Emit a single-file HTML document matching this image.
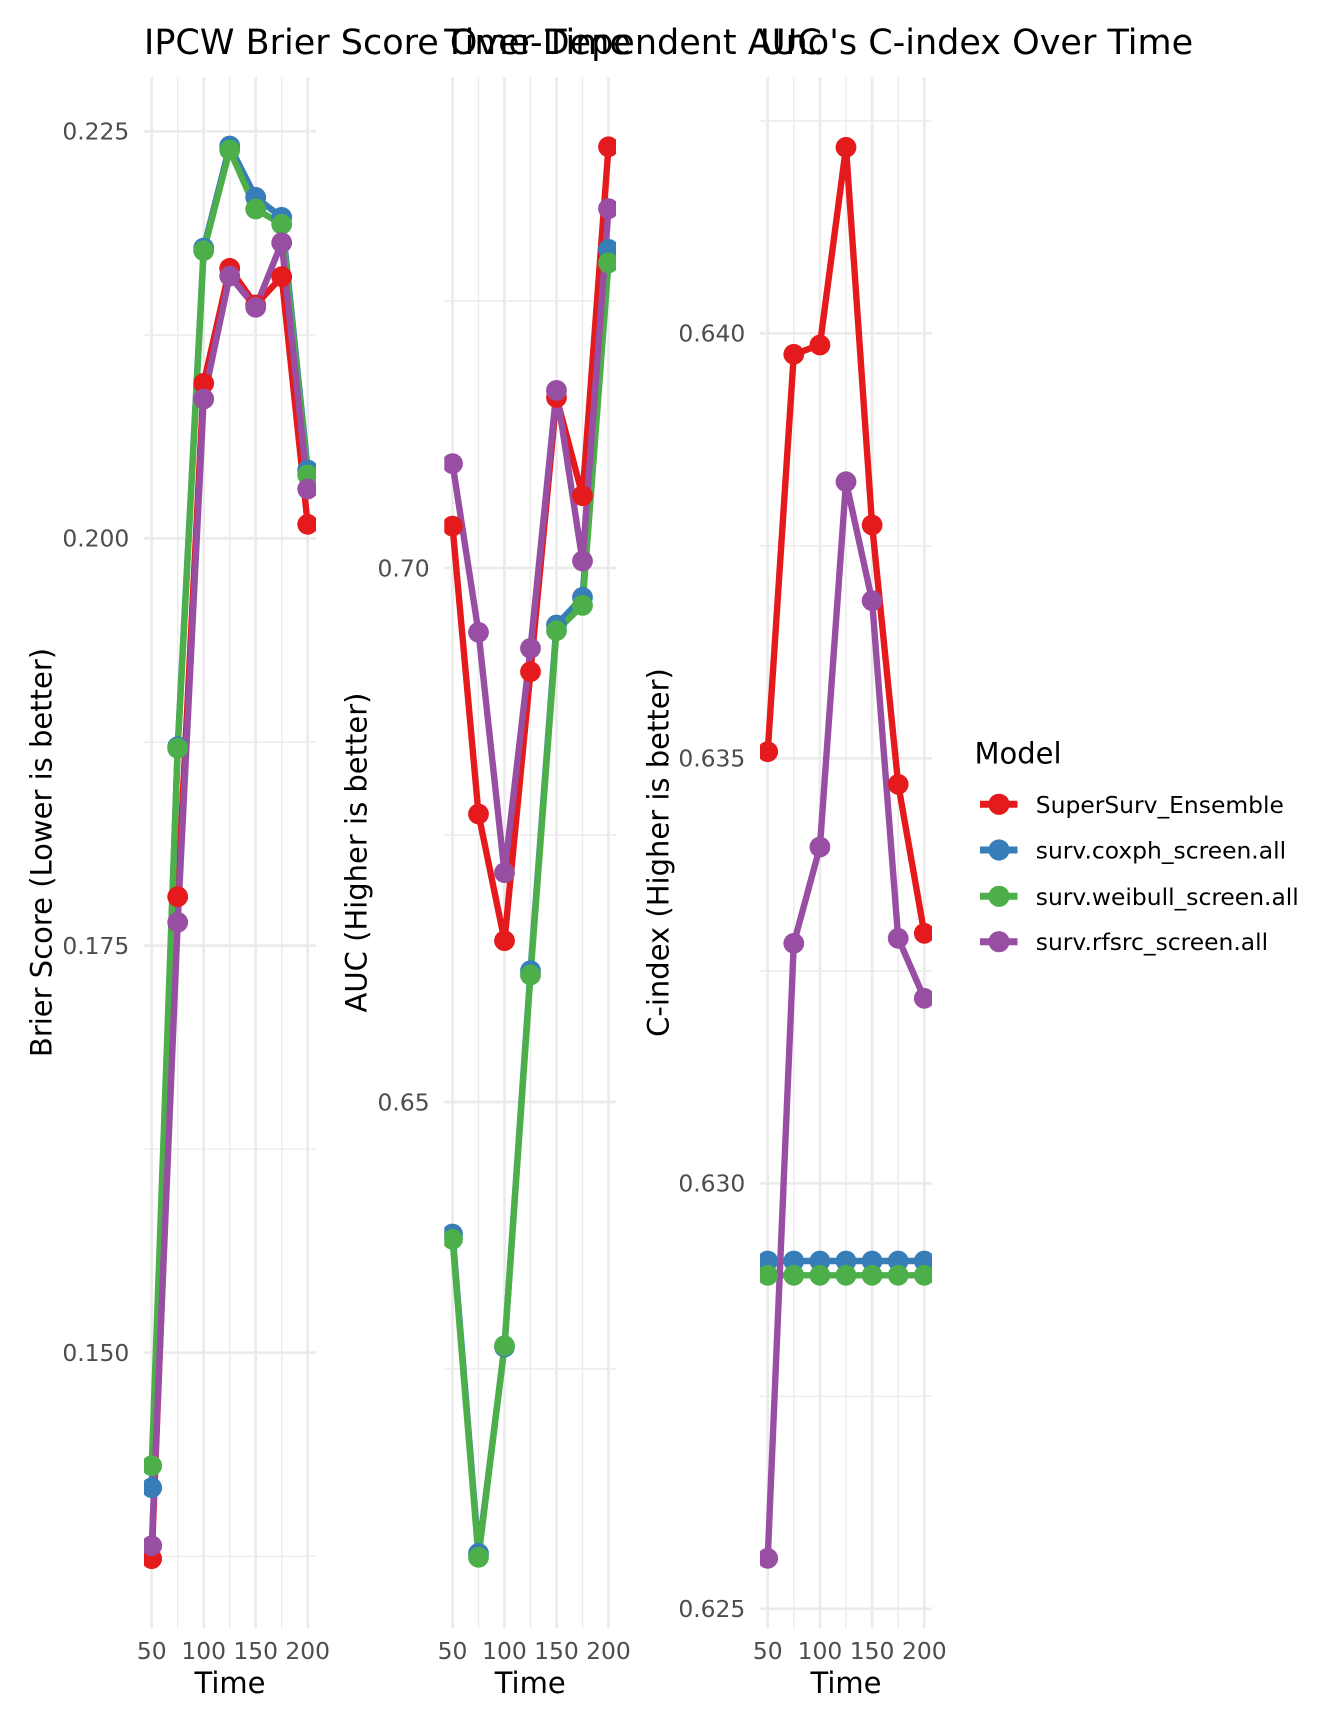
<!DOCTYPE html>
<html>
<head>
<meta charset="utf-8">
<style>
  html, body { margin:0; padding:0; background:#ffffff; }
  svg { display:block; }
  text { font-family: "DejaVu Sans", "Liberation Sans", sans-serif; }
</style>
</head>
<body>
<svg width="1344" height="1728" viewBox="0 0 1344 1728" xmlns="http://www.w3.org/2000/svg">
  <rect x="0" y="0" width="1344" height="1728" fill="#ffffff"/>
  <defs>
    <clipPath id="c1"><rect x="144" y="77" width="172" height="1551"/></clipPath>
    <clipPath id="c2"><rect x="444.3" y="77" width="171.7" height="1551"/></clipPath>
    <clipPath id="c3"><rect x="760" y="77" width="172" height="1551"/></clipPath>
  </defs>

  <!-- Titles -->
  <g font-size="35" fill="#000000">
    <text x="144" y="54">IPCW Brier Score Over Time</text>
    <text x="444.3" y="54">Time-Dependent AUC</text>
    <text x="760" y="54">Uno's C-index Over Time</text>
  </g>

  <!-- ============ PANEL 1 ============ -->
  <g stroke="#EBEBEB" fill="none">
    <g stroke-width="1.4">
      <line x1="144" x2="316" y1="335" y2="335"/>
      <line x1="144" x2="316" y1="742" y2="742"/>
      <line x1="144" x2="316" y1="1149.2" y2="1149.2"/>
      <line x1="144" x2="316" y1="1556.3" y2="1556.3"/>
      <line x1="177.7" x2="177.7" y1="77" y2="1628"/>
      <line x1="229.7" x2="229.7" y1="77" y2="1628"/>
      <line x1="281.7" x2="281.7" y1="77" y2="1628"/>
    </g>
    <g stroke-width="2.7">
      <line x1="144" x2="316" y1="131.3" y2="131.3"/>
      <line x1="144" x2="316" y1="538.4" y2="538.4"/>
      <line x1="144" x2="316" y1="945.6" y2="945.6"/>
      <line x1="144" x2="316" y1="1352.7" y2="1352.7"/>
      <line x1="151.7" x2="151.7" y1="77" y2="1628"/>
      <line x1="203.7" x2="203.7" y1="77" y2="1628"/>
      <line x1="255.7" x2="255.7" y1="77" y2="1628"/>
      <line x1="307.7" x2="307.7" y1="77" y2="1628"/>
    </g>
  </g>
  <g clip-path="url(#c1)">
    <g fill="none" stroke-width="6.4" stroke-linejoin="round">
      <polyline stroke="#E41A1C" points="151.7,1558.7 177.7,896.7 203.7,383.3 229.7,268.3 255.7,305 281.7,276.7 307.7,524.3"/>
      <polyline stroke="#377EB8" points="151.7,1487.7 177.7,746.7 203.7,248 229.7,146 255.7,197.3 281.7,217.3 307.7,470"/>
      <polyline stroke="#4DAF4A" points="151.7,1465.7 177.7,748.3 203.7,250.7 229.7,150 255.7,209 281.7,224.3 307.7,475"/>
      <polyline stroke="#984EA3" points="151.7,1545.7 177.7,922.3 203.7,399 229.7,276 255.7,307.3 281.7,242.7 307.7,489"/>
    </g>
    <g fill="#E41A1C">
      <circle cx="151.7" cy="1558.7" r="10.4"/><circle cx="177.7" cy="896.7" r="10.4"/><circle cx="203.7" cy="383.3" r="10.4"/><circle cx="229.7" cy="268.3" r="10.4"/><circle cx="255.7" cy="305" r="10.4"/><circle cx="281.7" cy="276.7" r="10.4"/><circle cx="307.7" cy="524.3" r="10.4"/>
    </g>
    <g fill="#377EB8">
      <circle cx="151.7" cy="1487.7" r="10.4"/><circle cx="177.7" cy="746.7" r="10.4"/><circle cx="203.7" cy="248" r="10.4"/><circle cx="229.7" cy="146" r="10.4"/><circle cx="255.7" cy="197.3" r="10.4"/><circle cx="281.7" cy="217.3" r="10.4"/><circle cx="307.7" cy="470" r="10.4"/>
    </g>
    <g fill="#4DAF4A">
      <circle cx="151.7" cy="1465.7" r="10.4"/><circle cx="177.7" cy="748.3" r="10.4"/><circle cx="203.7" cy="250.7" r="10.4"/><circle cx="229.7" cy="150" r="10.4"/><circle cx="255.7" cy="209" r="10.4"/><circle cx="281.7" cy="224.3" r="10.4"/><circle cx="307.7" cy="475" r="10.4"/>
    </g>
    <g fill="#984EA3">
      <circle cx="151.7" cy="1545.7" r="10.4"/><circle cx="177.7" cy="922.3" r="10.4"/><circle cx="203.7" cy="399" r="10.4"/><circle cx="229.7" cy="276" r="10.4"/><circle cx="255.7" cy="307.3" r="10.4"/><circle cx="281.7" cy="242.7" r="10.4"/><circle cx="307.7" cy="489" r="10.4"/>
    </g>
  </g>
  <g font-size="23.4" fill="#4D4D4D" text-anchor="end">
    <text x="129.3" y="139.6">0.225</text>
    <text x="129.3" y="546.7">0.200</text>
    <text x="129.3" y="953.9">0.175</text>
    <text x="129.3" y="1361">0.150</text>
  </g>
  <g font-size="23.4" fill="#4D4D4D" text-anchor="middle">
    <text x="151.7" y="1659">50</text>
    <text x="203.7" y="1659">100</text>
    <text x="255.7" y="1659">150</text>
    <text x="307.7" y="1659">200</text>
  </g>
  <text x="230" y="1693" font-size="29" text-anchor="middle" fill="#000">Time</text>
  <text transform="translate(51.6,852.5) rotate(-90)" font-size="29" text-anchor="middle" fill="#000">Brier Score (Lower is better)</text>

  <!-- ============ PANEL 2 ============ -->
  <g stroke="#EBEBEB" fill="none">
    <g stroke-width="1.4">
      <line x1="444.3" x2="616" y1="301" y2="301"/>
      <line x1="444.3" x2="616" y1="835" y2="835"/>
      <line x1="444.3" x2="616" y1="1369" y2="1369"/>
      <line x1="478.5" x2="478.5" y1="77" y2="1628"/>
      <line x1="530.5" x2="530.5" y1="77" y2="1628"/>
      <line x1="582.5" x2="582.5" y1="77" y2="1628"/>
    </g>
    <g stroke-width="2.7">
      <line x1="444.3" x2="616" y1="568" y2="568"/>
      <line x1="444.3" x2="616" y1="1102" y2="1102"/>
      <line x1="452.5" x2="452.5" y1="77" y2="1628"/>
      <line x1="504.5" x2="504.5" y1="77" y2="1628"/>
      <line x1="556.5" x2="556.5" y1="77" y2="1628"/>
      <line x1="608.5" x2="608.5" y1="77" y2="1628"/>
    </g>
  </g>
  <g clip-path="url(#c2)">
    <g fill="none" stroke-width="6.4" stroke-linejoin="round">
      <polyline stroke="#E41A1C" points="452.5,526.1 478.5,814 504.5,940.7 530.5,671.7 556.5,397.5 582.5,495.7 608.5,146.8"/>
      <polyline stroke="#377EB8" points="452.5,1234 478.5,1553.3 504.5,1347 530.5,970.7 556.5,625 582.5,597.3 608.5,249.3"/>
      <polyline stroke="#4DAF4A" points="452.5,1239.3 478.5,1557.3 504.5,1345.7 530.5,975 556.5,630.7 582.5,605.4 608.5,262.9"/>
      <polyline stroke="#984EA3" points="452.5,463.6 478.5,632.3 504.5,872.7 530.5,648.3 556.5,390.4 582.5,561 608.5,208.6"/>
    </g>
    <g fill="#E41A1C">
      <circle cx="452.5" cy="526.1" r="10.4"/><circle cx="478.5" cy="814" r="10.4"/><circle cx="504.5" cy="940.7" r="10.4"/><circle cx="530.5" cy="671.7" r="10.4"/><circle cx="556.5" cy="397.5" r="10.4"/><circle cx="582.5" cy="495.7" r="10.4"/><circle cx="608.5" cy="146.8" r="10.4"/>
    </g>
    <g fill="#377EB8">
      <circle cx="452.5" cy="1234" r="10.4"/><circle cx="478.5" cy="1553.3" r="10.4"/><circle cx="504.5" cy="1347" r="10.4"/><circle cx="530.5" cy="970.7" r="10.4"/><circle cx="556.5" cy="625" r="10.4"/><circle cx="582.5" cy="597.3" r="10.4"/><circle cx="608.5" cy="249.3" r="10.4"/>
    </g>
    <g fill="#4DAF4A">
      <circle cx="452.5" cy="1239.3" r="10.4"/><circle cx="478.5" cy="1557.3" r="10.4"/><circle cx="504.5" cy="1345.7" r="10.4"/><circle cx="530.5" cy="975" r="10.4"/><circle cx="556.5" cy="630.7" r="10.4"/><circle cx="582.5" cy="605.4" r="10.4"/><circle cx="608.5" cy="262.9" r="10.4"/>
    </g>
    <g fill="#984EA3">
      <circle cx="452.5" cy="463.6" r="10.4"/><circle cx="478.5" cy="632.3" r="10.4"/><circle cx="504.5" cy="872.7" r="10.4"/><circle cx="530.5" cy="648.3" r="10.4"/><circle cx="556.5" cy="390.4" r="10.4"/><circle cx="582.5" cy="561" r="10.4"/><circle cx="608.5" cy="208.6" r="10.4"/>
    </g>
  </g>
  <g font-size="23.4" fill="#4D4D4D" text-anchor="end">
    <text x="429.6" y="576.3">0.70</text>
    <text x="429.6" y="1110.3">0.65</text>
  </g>
  <g font-size="23.4" fill="#4D4D4D" text-anchor="middle">
    <text x="452.5" y="1659">50</text>
    <text x="504.5" y="1659">100</text>
    <text x="556.5" y="1659">150</text>
    <text x="608.5" y="1659">200</text>
  </g>
  <text x="530.2" y="1693" font-size="29" text-anchor="middle" fill="#000">Time</text>
  <text transform="translate(366.6,852.5) rotate(-90)" font-size="29" text-anchor="middle" fill="#000">AUC (Higher is better)</text>

  <!-- ============ PANEL 3 ============ -->
  <g stroke="#EBEBEB" fill="none">
    <g stroke-width="1.4">
      <line x1="760" x2="932" y1="121" y2="121"/>
      <line x1="760" x2="932" y1="546" y2="546"/>
      <line x1="760" x2="932" y1="971" y2="971"/>
      <line x1="760" x2="932" y1="1396.3" y2="1396.3"/>
      <line x1="793.8" x2="793.8" y1="77" y2="1628"/>
      <line x1="846" x2="846" y1="77" y2="1628"/>
      <line x1="898.2" x2="898.2" y1="77" y2="1628"/>
    </g>
    <g stroke-width="2.7">
      <line x1="760" x2="932" y1="333.3" y2="333.3"/>
      <line x1="760" x2="932" y1="758.3" y2="758.3"/>
      <line x1="760" x2="932" y1="1183.3" y2="1183.3"/>
      <line x1="760" x2="932" y1="1608.8" y2="1608.8"/>
      <line x1="767.7" x2="767.7" y1="77" y2="1628"/>
      <line x1="819.9" x2="819.9" y1="77" y2="1628"/>
      <line x1="872.1" x2="872.1" y1="77" y2="1628"/>
      <line x1="924.3" x2="924.3" y1="77" y2="1628"/>
    </g>
  </g>
  <g clip-path="url(#c3)">
    <g fill="none" stroke-width="6.4" stroke-linejoin="round">
      <polyline stroke="#E41A1C" points="767.7,751.7 793.8,354.3 819.9,345 846,147.3 872.1,525 898.2,784.3 924.3,933.3"/>
      <polyline stroke="#377EB8" points="767.7,1261 793.8,1261 819.9,1261 846,1261 872.1,1261 898.2,1261 924.3,1261"/>
      <polyline stroke="#4DAF4A" points="767.7,1275.3 793.8,1275.3 819.9,1275.3 846,1275.3 872.1,1275.3 898.2,1275.3 924.3,1275.3"/>
      <polyline stroke="#984EA3" points="767.7,1558.3 793.8,943.3 819.9,847 846,481.7 872.1,600.7 898.2,938.3 924.3,998.3"/>
    </g>
    <g fill="#E41A1C">
      <circle cx="767.7" cy="751.7" r="10.4"/><circle cx="793.8" cy="354.3" r="10.4"/><circle cx="819.9" cy="345" r="10.4"/><circle cx="846" cy="147.3" r="10.4"/><circle cx="872.1" cy="525" r="10.4"/><circle cx="898.2" cy="784.3" r="10.4"/><circle cx="924.3" cy="933.3" r="10.4"/>
    </g>
    <g fill="#377EB8">
      <circle cx="767.7" cy="1261" r="10.4"/><circle cx="793.8" cy="1261" r="10.4"/><circle cx="819.9" cy="1261" r="10.4"/><circle cx="846" cy="1261" r="10.4"/><circle cx="872.1" cy="1261" r="10.4"/><circle cx="898.2" cy="1261" r="10.4"/><circle cx="924.3" cy="1261" r="10.4"/>
    </g>
    <g fill="#4DAF4A">
      <circle cx="767.7" cy="1275.3" r="10.4"/><circle cx="793.8" cy="1275.3" r="10.4"/><circle cx="819.9" cy="1275.3" r="10.4"/><circle cx="846" cy="1275.3" r="10.4"/><circle cx="872.1" cy="1275.3" r="10.4"/><circle cx="898.2" cy="1275.3" r="10.4"/><circle cx="924.3" cy="1275.3" r="10.4"/>
    </g>
    <g fill="#984EA3">
      <circle cx="767.7" cy="1558.3" r="10.4"/><circle cx="793.8" cy="943.3" r="10.4"/><circle cx="819.9" cy="847" r="10.4"/><circle cx="846" cy="481.7" r="10.4"/><circle cx="872.1" cy="600.7" r="10.4"/><circle cx="898.2" cy="938.3" r="10.4"/><circle cx="924.3" cy="998.3" r="10.4"/>
    </g>
  </g>
  <g font-size="23.4" fill="#4D4D4D" text-anchor="end">
    <text x="745.3" y="341.6">0.640</text>
    <text x="745.3" y="766.6">0.635</text>
    <text x="745.3" y="1191.6">0.630</text>
    <text x="745.3" y="1617">0.625</text>
  </g>
  <g font-size="23.4" fill="#4D4D4D" text-anchor="middle">
    <text x="767.7" y="1659">50</text>
    <text x="819.9" y="1659">100</text>
    <text x="872.1" y="1659">150</text>
    <text x="924.3" y="1659">200</text>
  </g>
  <text x="846" y="1693" font-size="29" text-anchor="middle" fill="#000">Time</text>
  <text transform="translate(668.3,852.5) rotate(-90)" font-size="29" text-anchor="middle" fill="#000">C-index (Higher is better)</text>

  <!-- ============ LEGEND ============ -->
  <text x="974.5" y="763.3" font-size="29" fill="#000">Model</text>
  <g stroke-width="7">
    <line x1="980" x2="1017.5" y1="804.3" y2="804.3" stroke="#E41A1C"/>
    <line x1="980" x2="1017.5" y1="850" y2="850" stroke="#377EB8"/>
    <line x1="980" x2="1017.5" y1="896.3" y2="896.3" stroke="#4DAF4A"/>
    <line x1="980" x2="1017.5" y1="941.7" y2="941.7" stroke="#984EA3"/>
  </g>
  <circle cx="999" cy="804.3" r="10.6" fill="#E41A1C"/>
  <circle cx="999" cy="850" r="10.6" fill="#377EB8"/>
  <circle cx="999" cy="896.3" r="10.6" fill="#4DAF4A"/>
  <circle cx="999" cy="941.7" r="10.6" fill="#984EA3"/>
  <g font-size="23.4" fill="#000">
    <text x="1035.8" y="812.8">SuperSurv_Ensemble</text>
    <text x="1035.8" y="858.5">surv.coxph_screen.all</text>
    <text x="1035.8" y="904.8">surv.weibull_screen.all</text>
    <text x="1035.8" y="950.2">surv.rfsrc_screen.all</text>
  </g>
</svg>
</body>
</html>
